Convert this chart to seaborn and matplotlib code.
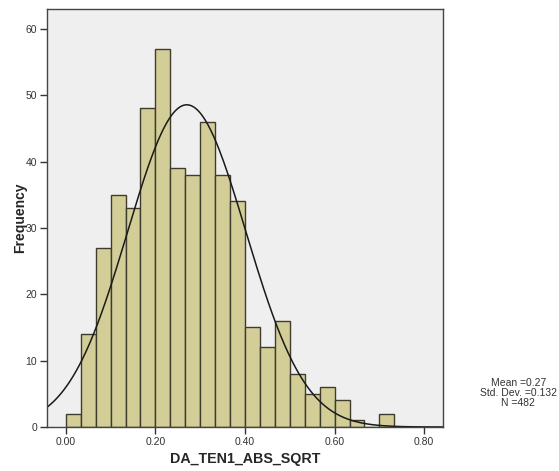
import numpy as np
import pandas as pd
import matplotlib
matplotlib.use("Agg")
import matplotlib.pyplot as plt
import seaborn as sns

# histogram counts (bin width 1/30, starting at 0)
bin_width = 1 / 30
counts = [2, 14, 27, 35, 33, 48, 57, 39, 38, 46, 38, 34,
          15, 12, 16, 8, 5, 6, 4, 1, 0, 2]
x_ticks = [0.00, 0.20, 0.40, 0.60, 0.80]
y_ticks = [0, 10, 20, 30, 40, 50, 60]
mean_val = 0.27
std_val = 0.132
n_obs = 482

n_bins = len(counts)
edges = np.arange(n_bins + 1) * bin_width
centers = (edges[:-1] + edges[1:]) / 2
df = pd.DataFrame({"value": centers, "count": counts})

sns.set_style("white")
plt.rcParams["font.family"] = ["Liberation Sans", "DejaVu Sans"]

fig = plt.figure(figsize=(5.59, 4.71), dpi=100)
ax = fig.add_axes([0.0841, 0.0934, 0.7084, 0.8876])
ax.set_facecolor("#EFEFEF")

sns.histplot(data=df, x="value", weights="count", bins=n_bins,
             binrange=(edges[0], edges[-1]), ax=ax,
             color="#D3CE98", alpha=1, edgecolor="#3E3C2C", linewidth=1.0)

# fitted normal curve scaled to counts
xs = np.linspace(-0.045, 0.845, 400)
ys = n_obs * bin_width / (std_val * np.sqrt(2 * np.pi)) * np.exp(-0.5 * ((xs - mean_val) / std_val) ** 2)
sns.lineplot(x=xs, y=ys, ax=ax, color="#1A1A1A", linewidth=1.1)

ax.set_xlim(-0.042, 0.842)
ax.set_ylim(0, 63)
ax.set_xticks(x_ticks)
ax.set_xticklabels([f"{t:.2f}" for t in x_ticks])
ax.set_yticks(y_ticks)
ax.tick_params(axis="both", direction="out", length=5, width=1, color="#333333",
               labelsize=7.5, labelcolor="#333333", pad=2, bottom=True, left=True)
for sp in ax.spines.values():
    sp.set_color("#444444")
    sp.set_linewidth(1.0)

ax.set_xlabel("DA_TEN1_ABS_SQRT", fontsize=10.3, fontweight="bold", labelpad=4)
ax.set_ylabel("Frequency", fontsize=10, fontweight="bold", labelpad=-1)

fig.text(0.927, 0.165, f"Mean ={mean_val}\nStd. Dev. ={std_val}\nN ={n_obs}",
         ha="center", va="center", fontsize=7.5, color="#333333", linespacing=1.0)

fig.savefig("out.png", dpi=100)
